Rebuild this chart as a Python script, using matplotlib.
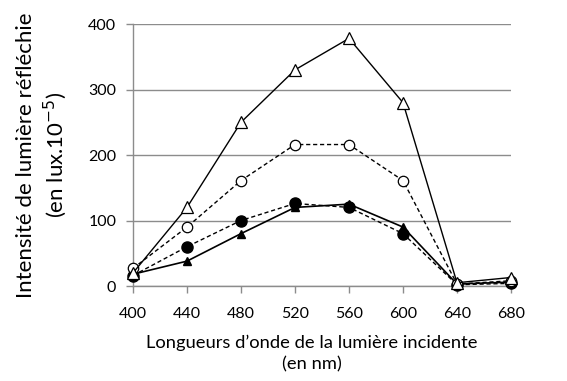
import matplotlib.pyplot as plt

plt.rcParams['font.family'] = ['Lato', 'DejaVu Sans']

wavelengths = [400, 440, 480, 520, 560, 600, 640, 680]
open_triangles = [20, 120, 250, 330, 378, 280, 5, 13]
open_circles = [27, 90, 161, 216, 216, 161, 3, 8]
filled_circles = [16, 60, 100, 126, 120, 80, 2, 4]
filled_triangles = [18, 38, 80, 120, 125, 90, 3, 6]
yticks = [0, 100, 200, 300, 400]

fig = plt.figure(figsize=(5.67, 3.81), dpi=100)
ax = fig.add_axes([0.2346, 0.2493, 0.9012 - 0.2346, 0.937 - 0.2493])

dash = (0, (3, 2))
ax.plot(wavelengths, filled_triangles, color='black', lw=1.2, marker='^',
        ms=6, mfc='black', mec='black', zorder=3)
ax.plot(wavelengths, filled_circles, color='black', lw=1.0, linestyle=dash,
        marker='o', ms=8, mfc='black', mec='black', zorder=3)
ax.plot(wavelengths, open_circles, color='black', lw=1.0, linestyle=dash,
        marker='o', ms=7.5, mfc='white', mec='black', mew=0.9, zorder=4)
ax.plot(wavelengths, open_triangles, color='black', lw=1.0, marker='^',
        ms=8.5, mfc='white', mec='black', mew=0.9, zorder=4)

ax.set_xlim(400, 680)
ax.set_ylim(0, 400)
ax.set_xticks(wavelengths)
ax.set_yticks(yticks)
ax.grid(axis='y', color='#8c8c8c', lw=1.0)
ax.set_axisbelow(True)
for s in ['top', 'right']:
    ax.spines[s].set_visible(False)
for s in ['left', 'bottom']:
    ax.spines[s].set_color('#8c8c8c')
    ax.spines[s].set_linewidth(1.0)
ax.tick_params(axis='both', direction='out', length=5, color='#8c8c8c',
               labelsize=11.5, width=1.0)
ax.tick_params(axis='x', pad=10)
ax.tick_params(axis='y', pad=7)
for line in ax.lines:
    line.set_clip_on(False)

ax.set_xlabel("Longueurs d\u2019onde de la lumière incidente\n(en nm)",
              fontsize=13.2, linespacing=1.4)
ax.xaxis.set_label_coords(0.4735, -0.185)
ax.set_ylabel("Intensité de lumière réfléchie\n(en lux.10$^{\\mathsf{-5}}$)",
              fontsize=16, labelpad=14, linespacing=1.25)

plt.savefig("out.png", dpi=100)
